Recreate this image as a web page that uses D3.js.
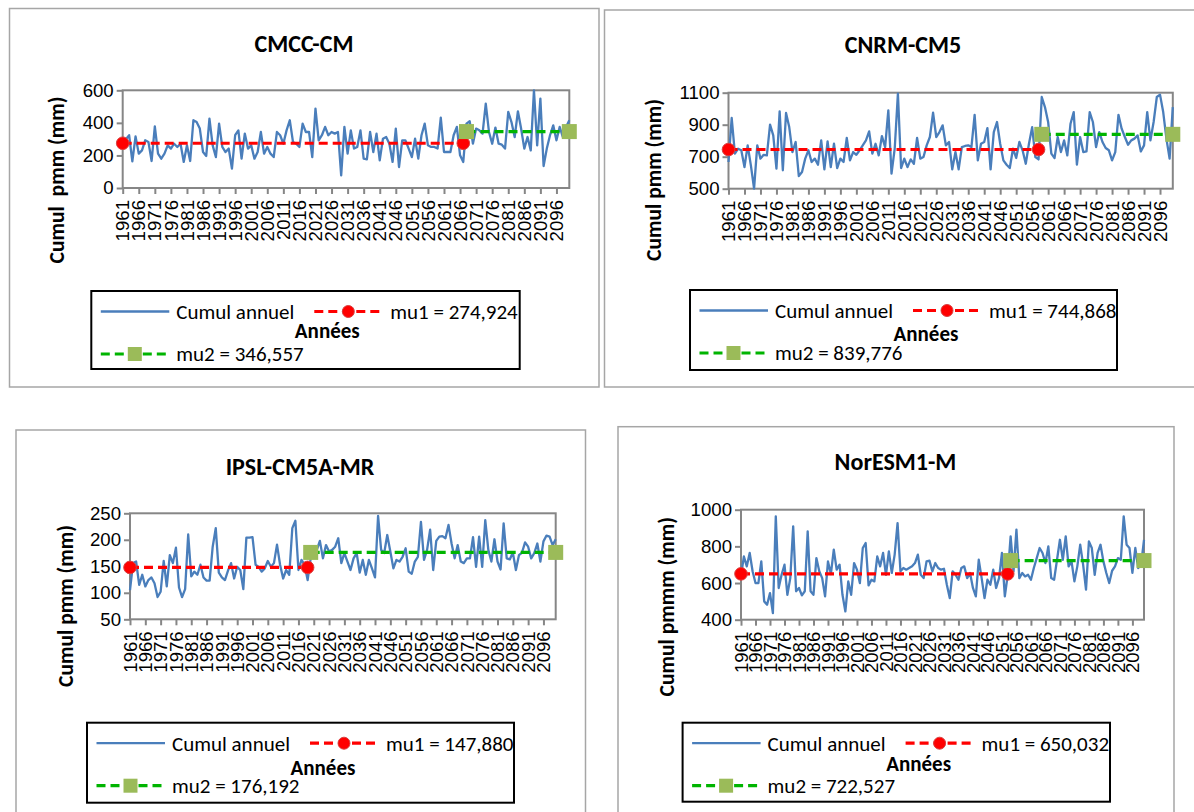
<!DOCTYPE html>
<html>
<head>
<meta charset="utf-8">
<script src="https://cdn.jsdelivr.net/npm/d3@7"></script>
<style>
  body { margin: 0; background: #fff; }
  svg { display: block; font-family: Carlito, Calibri, Lato, sans-serif; }
</style>
</head>
<body>
<svg width="1194" height="812"></svg>
<script>
// years on the category axis
var years = d3.range(1961, 2101);
var tickYears = years.filter(function (d) { return (d - 1961) % 5 === 0; });

var titles = ["CMCC-CM", "CNRM-CM5", "IPSL-CM5A-MR", "NorESM1-M"];
var yTitles = ["Cumul  pmm (mm)", "Cumul pmm (mm)", "Cumul pmm (mm)", "Cumul pmmm (mm)"];
var yTicks = [[0, 200, 400, 600], [500, 700, 900, 1100], [50, 100, 150, 200, 250], [400, 600, 800, 1000]];

// means before / after the break, and last year of the first segment
var mu1 = [274.924, 744.868, 147.880, 650.032];
var mu2 = [346.557, 839.776, 176.192, 722.527];
var mu1Labels = ["274,924", "744,868", "147,880", "650,032"];
var mu2Labels = ["346,557", "839,776", "176,192", "722,527"];
var breakYears = [2067, 2058, 2019, 2053];

// annual totals, 1961..2100
var cmccValues = [
  272, 300, 324, 164, 317, 211, 231, 293, 283, 166,
  379, 211, 180, 211, 262, 242, 272, 252, 272, 160,
  262, 166, 416, 405, 365, 221, 197, 426, 262, 190,
  395, 252, 221, 242, 119, 324, 354, 180, 334, 242,
  262, 180, 221, 344, 211, 252, 211, 190, 344, 324,
  272, 354, 416, 283, 272, 252, 395, 344, 344, 190,
  487, 293, 324, 375, 324, 344, 334, 344, 78, 375,
  211, 354, 242, 252, 354, 180, 176, 344, 221, 334,
  170, 303, 313, 272, 160, 365, 129, 293, 293, 242,
  190, 303, 180, 324, 395, 262, 252, 252, 242, 432,
  221, 221, 221, 324, 375, 201, 160, 395, 410, 272,
  365, 354, 334, 518, 344, 272, 371, 272, 266, 242,
  467, 405, 313, 471, 365, 242, 313, 231, 600, 262,
  549, 135, 242, 324, 385, 293, 375, 313, 375, 416
];
var cnrmValues = [
  667, 942, 719, 750, 740, 635, 771, 646, 500, 771,
  688, 712, 708, 900, 833, 625, 983, 615, 973, 885,
  729, 792, 579, 604, 688, 740, 667, 688, 650, 802,
  621, 796, 635, 781, 629, 688, 667, 817, 677, 729,
  712, 740, 771, 802, 858, 719, 781, 708, 829, 760,
  990, 594, 750, 1094, 629, 688, 635, 683, 656, 817,
  688, 698, 771, 823, 975, 823, 854, 896, 771, 792,
  621, 729, 621, 760, 767, 771, 760, 962, 677, 781,
  792, 879, 621, 854, 917, 781, 677, 650, 629, 750,
  692, 792, 740, 656, 781, 885, 698, 683, 1073, 1010,
  917, 719, 692, 823, 729, 802, 708, 906, 979, 650,
  823, 729, 733, 979, 917, 760, 854, 792, 754, 740,
  677, 729, 962, 875, 823, 775, 802, 813, 833, 733,
  771, 979, 802, 917, 1073, 1088, 979, 813, 688, 1010
];
var ipslValues = [
  105, 156, 159, 115, 134, 112, 124, 129, 118, 92,
  102, 160, 112, 171, 156, 185, 110, 92, 107, 210,
  131, 140, 134, 153, 129, 123, 123, 187, 222, 138,
  129, 124, 142, 156, 127, 149, 143, 107, 204, 204,
  205, 153, 149, 140, 146, 160, 149, 156, 191, 153,
  127, 143, 134, 222, 236, 143, 162, 153, 124, 165,
  175, 181, 198, 165, 190, 178, 181, 187, 203, 156,
  175, 159, 143, 165, 175, 138, 162, 134, 162, 146,
  129, 245, 181, 175, 209, 178, 146, 162, 159, 168,
  184, 140, 136, 159, 168, 234, 162, 181, 219, 143,
  198, 206, 207, 203, 228, 193, 165, 190, 159, 156,
  165, 165, 205, 149, 206, 149, 237, 181, 159, 201,
  159, 144, 231, 165, 163, 176, 143, 171, 176, 195,
  187, 165, 175, 193, 159, 197, 208, 206, 190, 201
];
var noresmValues = [
  640, 745, 691, 764, 664, 600, 600, 718, 500, 482,
  545, 436, 964, 573, 645, 700, 536, 627, 909, 555,
  573, 533, 555, 882, 555, 536, 736, 664, 627, 527,
  718, 649, 782, 673, 700, 536, 445, 609, 536, 709,
  673, 600, 791, 818, 587, 618, 609, 745, 691, 764,
  645, 773, 655, 755, 927, 664, 682, 673, 682, 691,
  709, 755, 645, 627, 718, 722, 664, 709, 682, 673,
  678, 591, 518, 664, 645, 618, 682, 691, 627, 655,
  573, 527, 727, 627, 518, 618, 591, 673, 573, 627,
  764, 527, 645, 855, 664, 891, 627, 655, 636, 645,
  618, 682, 736, 791, 764, 709, 800, 627, 618, 727,
  836, 727, 855, 691, 718, 609, 691, 809, 700, 564,
  827, 791, 645, 764, 809, 718, 655, 600, 667, 691,
  736, 727, 964, 809, 791, 655, 791, 682, 700, 836
];
var seriesValues = [cmccValues, cnrmValues, ipslValues, noresmValues];

// layout of the four boxes (x, y, w, h)
var layout = [
  {box: [9.5, 8.5, 589.5, 378.5], plot: [122.7, 90.3, 446.6, 97.7], legend: [91.3, 291, 428.4, 78], title: [304, 44], ytitle: [56, 180], annees: 40},
  {box: [604.5, 10, 600, 377], plot: [728.5, 92.7, 444.3, 96], legend: [690, 290, 427, 80], title: [903, 45], ytitle: [653, 180], annees: 44},
  {box: [16, 430, 569.5, 400], plot: [130, 513.3, 425.7, 106], legend: [87, 722.7, 427, 80], title: [300, 466.7], ytitle: [65, 606], annees: 45},
  {box: [618, 426.7, 556, 400], plot: [741, 509.7, 403, 110], legend: [682.6, 722.7, 427.4, 79], title: [895.5, 461.7], ytitle: [666, 606.7], annees: 40.6}
];

var blue = "#4a7ebb", red = "#ff0000", green = "#00b400", olive = "#9bbb59", grey = "#868686";

var svg = d3.select("svg");

// pick font sizes so a sample string gets the width it has in the picture
function fitSize(sample, bold, width) {
  var t = svg.append("text").attr("font-size", 100)
      .attr("font-weight", bold ? "bold" : "normal")
      .style("white-space", "pre").text(sample);
  var len = t.node().getComputedTextLength();
  t.remove();
  return 100 * width / len;
}
var titleSize = fitSize("CMCC-CM", true, 99);
var tickSize = fitSize("250", false, 28.3);
var legendSize = fitSize("Cumul annuel", false, 118);
var anneesSize = fitSize("Années", true, 65);
var yTitleSize = fitSize("Cumul pmm (mm)", true, 162);

layout.forEach(function (L, k) {
  var values = seriesValues[k];
  var data = years.map(function (yr, i) { return {year: yr, value: values[i]}; });

  // outer frame
  svg.append("rect")
      .attr("x", L.box[0]).attr("y", L.box[1])
      .attr("width", L.box[2]).attr("height", L.box[3])
      .attr("fill", "#fff").attr("stroke", "#a6a6a6").attr("stroke-width", 1.5);

  svg.append("text")
      .attr("x", L.title[0]).attr("y", L.title[1])
      .attr("dy", "0.35em")
      .attr("text-anchor", "middle")
      .attr("font-size", titleSize).attr("font-weight", "bold")
      .text(titles[k]);

  var w = L.plot[2], h = L.plot[3];
  var g = svg.append("g").attr("transform", "translate(" + L.plot[0] + "," + L.plot[1] + ")");

  var x = d3.scalePoint().domain(years).range([0, w]);
  var ticks = yTicks[k];
  var y = d3.scaleLinear().domain([ticks[0], ticks[ticks.length - 1]]).range([h, 0]);

  g.append("rect")
      .attr("width", w).attr("height", h)
      .attr("fill", "none").attr("stroke", grey).attr("stroke-width", 2);

  var yAxis = g.append("g")
      .call(d3.axisLeft(y).tickValues(ticks).tickFormat(d3.format("d")).tickSize(6).tickPadding(3));
  yAxis.select(".domain").remove();
  yAxis.selectAll("line").attr("stroke", grey).attr("stroke-width", 2);
  yAxis.selectAll("text").attr("font-size", tickSize).attr("font-family", null).attr("fill", "#000");

  var xAxis = g.append("g")
      .attr("transform", "translate(0," + h + ")")
      .call(d3.axisBottom(x).tickValues(tickYears).tickSize(6));
  xAxis.select(".domain").remove();
  xAxis.selectAll("line").attr("stroke", grey).attr("stroke-width", 2);
  xAxis.selectAll("text")
      .attr("font-size", tickSize).attr("font-family", null).attr("fill", "#000")
      .attr("transform", "rotate(-90)")
      .attr("text-anchor", "end")
      .attr("x", -12).attr("y", 0).attr("dy", "0.33em");

  // annual series
  var line = d3.line()
      .x(function (d) { return x(d.year); })
      .y(function (d) { return y(d.value); });
  g.append("path")
      .attr("d", line(data))
      .attr("fill", "none").attr("stroke", blue).attr("stroke-width", 2.3)
      .attr("stroke-linejoin", "round");

  // the two means
  var seg1 = [{year: 1961, value: mu1[k]}, {year: breakYears[k], value: mu1[k]}];
  var seg2 = [{year: breakYears[k] + 1, value: mu2[k]}, {year: 2100, value: mu2[k]}];
  g.append("path").attr("d", line(seg1))
      .attr("stroke", red).attr("stroke-width", 3.2).attr("stroke-dasharray", "9,5").attr("fill", "none");
  g.append("path").attr("d", line(seg2))
      .attr("stroke", green).attr("stroke-width", 3.2).attr("stroke-dasharray", "9,5").attr("fill", "none");

  g.selectAll(".c").data(seg1).enter().append("circle")
      .attr("cx", function (d) { return x(d.year); })
      .attr("cy", function (d) { return y(d.value); })
      .attr("r", 6.3).attr("fill", red).attr("stroke", "#d84040").attr("stroke-width", 1);
  g.selectAll(".s").data(seg2).enter().append("rect")
      .attr("x", function (d) { return x(d.year) - 7.5; })
      .attr("y", function (d) { return y(d.value) - 7.5; })
      .attr("width", 15).attr("height", 15).attr("fill", olive);

  // y title
  svg.append("text")
      .attr("transform", "translate(" + L.ytitle[0] + "," + L.ytitle[1] + ")rotate(-90)")
      .attr("dy", "0.35em")
      .attr("text-anchor", "middle")
      .attr("font-size", yTitleSize).attr("font-weight", "bold")
      .style("white-space", "pre")
      .text(yTitles[k]);

  // legend
  var lg = svg.append("g").attr("transform", "translate(" + L.legend[0] + "," + L.legend[1] + ")");
  lg.append("rect")
      .attr("width", L.legend[2]).attr("height", L.legend[3])
      .attr("fill", "#fff").attr("stroke", "#000").attr("stroke-width", 2);

  var r1 = 20.5, r2 = 63;
  lg.append("line").attr("x1", 9.5).attr("x2", 78).attr("y1", r1).attr("y2", r1)
      .attr("stroke", blue).attr("stroke-width", 2.3);
  lg.append("text").attr("x", 85).attr("y", r1).attr("dy", "0.35em")
      .attr("font-size", legendSize).text("Cumul annuel");

  lg.append("line").attr("x1", 223).attr("x2", 292).attr("y1", r1).attr("y2", r1)
      .attr("stroke", red).attr("stroke-width", 3.2).attr("stroke-dasharray", "9,5");
  lg.append("circle").attr("cx", 257).attr("cy", r1).attr("r", 6)
      .attr("fill", red).attr("stroke", "#d84040").attr("stroke-width", 1);
  lg.append("text").attr("x", 299).attr("y", r1).attr("dy", "0.35em")
      .attr("font-size", legendSize).text("mu1 = " + mu1Labels[k]);

  lg.append("line").attr("x1", 9.5).attr("x2", 78).attr("y1", r2).attr("y2", r2)
      .attr("stroke", green).attr("stroke-width", 3.2).attr("stroke-dasharray", "9,5");
  lg.append("rect").attr("x", 43.5 - 7).attr("y", r2 - 7).attr("width", 14).attr("height", 14)
      .attr("fill", olive);
  lg.append("text").attr("x", 85).attr("y", r2).attr("dy", "0.35em")
      .attr("font-size", legendSize).text("mu2 = " + mu2Labels[k]);

  // x axis title sits over the legend
  lg.append("text").attr("x", 236).attr("y", L.annees).attr("dy", "0.35em")
      .attr("text-anchor", "middle")
      .attr("font-size", anneesSize).attr("font-weight", "bold")
      .text("Années");
});
</script>
</body>
</html>
